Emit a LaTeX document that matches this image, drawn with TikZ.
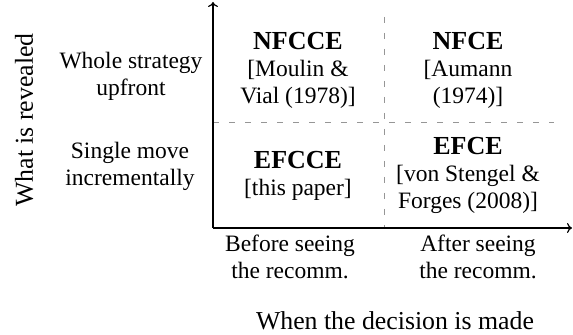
\documentclass[tikz,border=0pt]{standalone}
\usepackage{fontspec}
\setmainfont{Liberation Serif}
\usetikzlibrary{arrows.meta, positioning}
\definecolor{gridgray}{RGB}{150,150,150}

\begin{document}
\begin{tikzpicture}[
    x=0.5pt, y=-0.5pt,
    axis/.style={-{To[length=2.5pt, width=5pt]}, line width=0.6pt},
    divider/.style={draw=gridgray, line width=0.45pt, dash pattern=on 3pt off 5pt},
    cell/.style={align=center, inner sep=0pt, font=\fontsize{11.75}{13.5}\selectfont},
    axislabel/.style={inner sep=0pt, font=\fontsize{12.9}{15}\selectfont}
]
    \useasboundingbox (0,0) rectangle (573,335);

    % Axes and dividers
    \coordinate (origin) at (213,228);
    \coordinate (ytip) at (213,2);
    \coordinate (xtip) at (572,228);
    \coordinate (vtop) at (384,17);
    \coordinate (vbot) at (384,228);
    \coordinate (hleft) at (213,122);
    \coordinate (hright) at (554,122);
    \draw[divider] (vtop) -- (vbot);
    \draw[divider] (hleft) -- (hright);
    \draw[axis] (origin) -- (ytip);
    \draw[axis] (origin) -- (xtip);

    % Cells
    \node[cell] (nfcce) at (298,70) {{\fontsize{13}{13.5}\selectfont\bfseries NFCCE}\\{}[Moulin \&\\Vial (1978)]};
    \node[cell] (nfce) at (468,70) {{\fontsize{13}{13.5}\selectfont\bfseries NFCE}\\{}[Aumann\\(1974)]};
    \node[cell] (efcce) at (298,176) {{\fontsize{13}{13.5}\selectfont\bfseries EFCCE}\\{}[this paper]};
    \node[cell] (efce) at (468,175) {{\fontsize{13}{13.5}\selectfont\bfseries EFCE}\\{}[von Stengel \&\\Forges (2008)]};

    % Row labels
    \node[cell] (whole) at (131,76) {Whole strategy\\upfront};
    \node[cell] (single) at (130,166) {Single move\\incrementally};

    % Column labels
    \node[cell] (before) at (290,257) {Before seeing\\the recomm.};
    \node[cell] (after) at (478,257) {After seeing\\the recomm.};

    % Axis labels
    \node[axislabel, rotate=90] (ylabel) at (24,120) {What is revealed};
    \node[axislabel] (xlabel) at (395,321) {When the decision is made};
\end{tikzpicture}
\end{document}
